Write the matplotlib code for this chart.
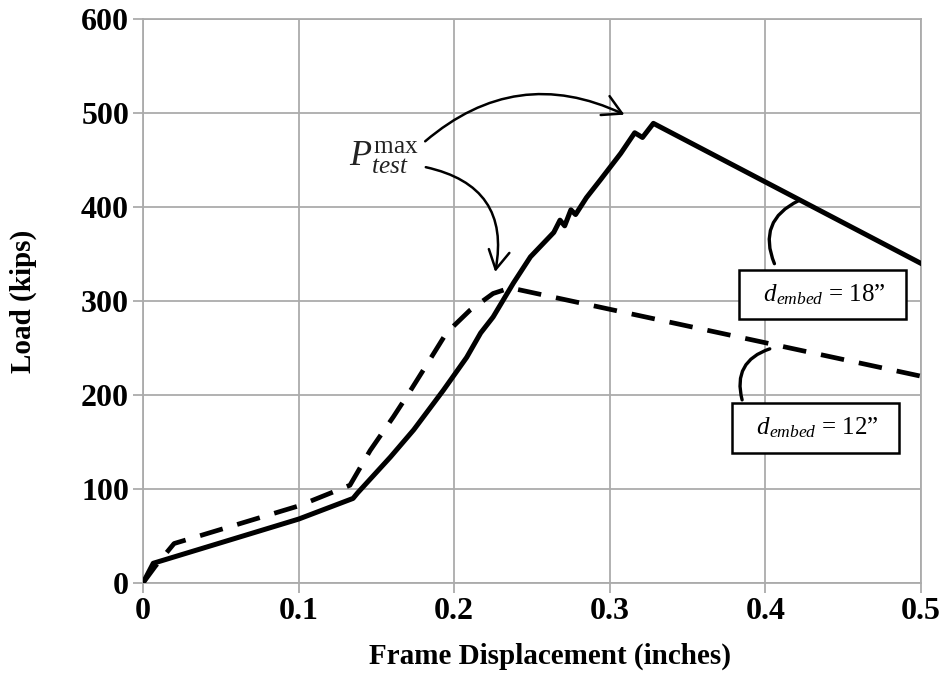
import matplotlib.pyplot as plt
from matplotlib.patches import FancyArrowPatch

plt.rcParams['font.family'] = 'Liberation Serif'
plt.rcParams['mathtext.fontset'] = 'custom'
plt.rcParams['mathtext.rm'] = 'Liberation Serif'
plt.rcParams['mathtext.it'] = 'Liberation Serif:italic'

# 18" embedment (solid)
disp_18 = [0, 0.0066, 0.1, 0.135, 0.138, 0.159, 0.174, 0.193, 0.208, 0.217, 0.225, 0.238,
           0.249, 0.264, 0.268, 0.271, 0.275, 0.278, 0.285, 0.294, 0.307, 0.316, 0.321,
           0.328, 0.5]
load_18 = [0, 21, 68, 90, 96, 134, 163, 205, 240, 266, 283, 319,
           347, 373, 386, 380, 397, 392, 410, 429, 457, 479, 474,
           489, 340]

# 12" embedment (dashed)
disp_12 = [0, 0.008, 0.02, 0.1, 0.133, 0.146, 0.161, 0.172, 0.183, 0.195, 0.21, 0.225,
           0.236, 0.5]
load_12 = [0, 18, 42, 82, 104, 141, 177, 205, 234, 266, 290, 308,
           314, 220]

fig, ax = plt.subplots(figsize=(9.5, 6.92), dpi=100)
fig.subplots_adjust(left=0.1505, right=0.9695, top=0.9725, bottom=0.1575)

ax.plot(disp_18, load_18, color='black', lw=3.6, solid_joinstyle='round', zorder=3)
ax.plot(disp_12, load_12, color='black', lw=3.4, dashes=(5, 3.2), zorder=3)

ax.set_xlim(0, 0.5)
ax.set_ylim(0, 600)
ax.set_xticks([0, 0.1, 0.2, 0.3, 0.4, 0.5])
ax.set_xticklabels(['0', '0.1', '0.2', '0.3', '0.4', '0.5'])
ax.set_yticks(range(0, 601, 100))
ax.grid(True, color='#ababab', lw=1.3)
ax.set_axisbelow(True)
for s in ax.spines.values():
    s.set_color('#ababab')
    s.set_linewidth(1.3)
ax.tick_params(length=7, width=1.3, color='#ababab', labelsize=23, pad=3)
for lab in ax.get_xticklabels() + ax.get_yticklabels():
    lab.set_fontweight('bold')

ax.set_xlabel('Frame Displacement (inches)', fontsize=21, fontweight='bold', labelpad=12)
ax.xaxis.label.set_x(0.523)
ax.set_ylabel('Load (kips)', fontsize=21, fontweight='bold', labelpad=32)

# P_test^max annotation
ax.text(0.155, 452, r'$P_{test}^{\mathrm{max}}$', fontsize=26, ha='center', va='center',
        color='#222222')
arr1 = FancyArrowPatch((0.18, 468), (0.311, 497), connectionstyle='arc3,rad=-0.33',
                       arrowstyle='->,head_length=9,head_width=5', lw=1.8, color='black',
                       mutation_scale=1.5)
ax.add_patch(arr1)
arr2 = FancyArrowPatch((0.18, 443), (0.226, 328), connectionstyle='arc3,rad=-0.5',
                       arrowstyle='->,head_length=9,head_width=5', lw=1.8, color='black',
                       mutation_scale=1.5)
ax.add_patch(arr2)

# leader lines to curves
ax.annotate('', xy=(0.423, 408), xytext=(0.4065, 337),
            arrowprops=dict(arrowstyle='-', lw=2.4, color='black',
                            connectionstyle='arc3,rad=-0.5'))
ax.annotate('', xy=(0.4045, 250), xytext=(0.3855, 192),
            arrowprops=dict(arrowstyle='-', lw=2.4, color='black',
                            connectionstyle='arc3,rad=-0.5'))

box = dict(boxstyle='square,pad=0.5', fc='white', ec='black', lw=1.8)
ax.text(0.4367, 307, r'  $d_{embed}$ = 18”  ', fontsize=18, ha='center', va='center', bbox=box, zorder=5)
ax.text(0.432, 165, r'  $d_{embed}$ = 12”  ', fontsize=18, ha='center', va='center', bbox=box, zorder=5)

fig.savefig('out.png')
